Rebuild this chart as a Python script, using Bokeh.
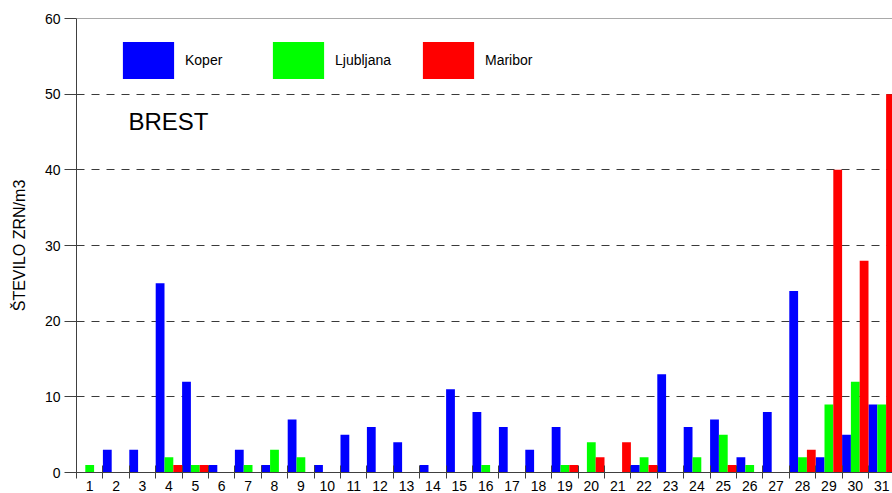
from bokeh.plotting import figure
from bokeh.models import (ColumnDataSource, FixedTicker, Legend, LegendItem, Label, Span, Range1d)
from bokeh.embed import file_html
from bokeh.resources import INLINE

days = list(range(1, 32))
koper = [0, 3, 3, 25, 12, 1, 3, 1, 7, 1, 5, 6, 4, 1, 11, 8, 6, 3, 6, 0, 0, 1, 13, 6, 7, 2, 8, 24, 2, 5, 9]
ljubljana = [1, 0, 0, 2, 1, 0, 1, 3, 2, 0, 0, 0, 0, 0, 0, 1, 0, 0, 1, 4, 0, 2, 0, 2, 5, 1, 0, 2, 9, 12, 9]
maribor = [0, 0, 0, 1, 1, 0, 0, 0, 0, 0, 0, 0, 0, 0, 0, 0, 0, 0, 1, 2, 4, 1, 0, 0, 1, 0, 0, 3, 40, 28, 50]
series_names = ["Koper", "Ljubljana", "Maribor"]
series_colors = ["#0000FF", "#00FF00", "#FF0000"]
y_ticks = [0, 10, 20, 30, 40, 50, 60]
title_text = "BREST"
y_title = "ŠTEVILO ZRN/m3"

FONT = "Liberation Sans"
DAY_PX = 26.4
FRAME_W = 816

p = figure(width=892, height=493, output_backend="svg", toolbar_location=None,
           x_range=Range1d(0.5, 0.5 + FRAME_W / DAY_PX), y_range=Range1d(0, 60),
           min_border_left=76, min_border_right=0, min_border_top=18, min_border_bottom=21)
p.outline_line_color = None
p.background_fill_color = "white"
p.border_fill_color = "white"

offsets = [-1/3, 0, 1/3]
renderers = []
for name, vals, col, off in zip(series_names, [koper, ljubljana, maribor], series_colors, offsets):
    src = ColumnDataSource(dict(x=[d + off for d in days], top=vals))
    r = p.vbar(x="x", top="top", width=1/3, bottom=0, source=src,
               fill_color=col, line_color=None)
    renderers.append(r)

# grid
p.xgrid.visible = False
p.ygrid.ticker = FixedTicker(ticks=[10, 20, 30, 40, 50])
p.ygrid.grid_line_color = "#3a3a3a"
p.ygrid.grid_line_dash = "8 7"
p.ygrid.grid_line_width = 1
p.add_layout(Span(location=60, dimension="width", line_color="#555555", line_width=1))

# y axis
ya = p.yaxis[0]
ya.ticker = FixedTicker(ticks=y_ticks, minor_ticks=[])
ya.major_tick_out = 12
ya.major_tick_in = 0
ya.axis_line_color = "#404040"
ya.major_tick_line_color = "#404040"
ya.major_label_text_font = FONT
ya.major_label_text_font_size = "14px"
ya.major_label_text_color = "#000000"
ya.major_label_standoff = 4
ya.axis_label = y_title
ya.axis_label_text_font = FONT
ya.axis_label_text_font_size = "16px"
ya.axis_label_text_font_style = "normal"
ya.axis_label_text_color = "#000000"
ya.axis_label_standoff = 14

# x axis
xa = p.xaxis[0]
xa.ticker = FixedTicker(ticks=days, minor_ticks=[d + 0.5 for d in [0] + days])
xa.major_tick_in = 0
xa.major_tick_out = 0
xa.minor_tick_in = 7
xa.minor_tick_out = 6
xa.minor_tick_line_color = "#404040"
xa.axis_line_color = "#404040"
xa.major_label_text_font = FONT
xa.major_label_text_font_size = "14px"
xa.major_label_text_color = "#000000"
xa.major_label_standoff = 2

# legend
legend = Legend(items=[LegendItem(label=n, renderers=[r]) for n, r in zip(series_names, renderers)],
                orientation="horizontal", location=(40, 389),
                glyph_width=64, glyph_height=46, label_standoff=5, label_width=81,
                spacing=0, padding=0, margin=0,
                border_line_color=None, background_fill_alpha=0,
                label_text_font=FONT, label_text_font_size="14px", label_text_color="#000000",
                label_text_baseline="alphabetic")
p.add_layout(legend)

p.add_layout(Label(x=52, y=351, x_units="screen", y_units="screen", text=title_text,
                   text_font=FONT, text_font_size="24px", text_baseline="middle",
                   text_color="#000000"))

open("out.html", "w").write(file_html(p, INLINE))
